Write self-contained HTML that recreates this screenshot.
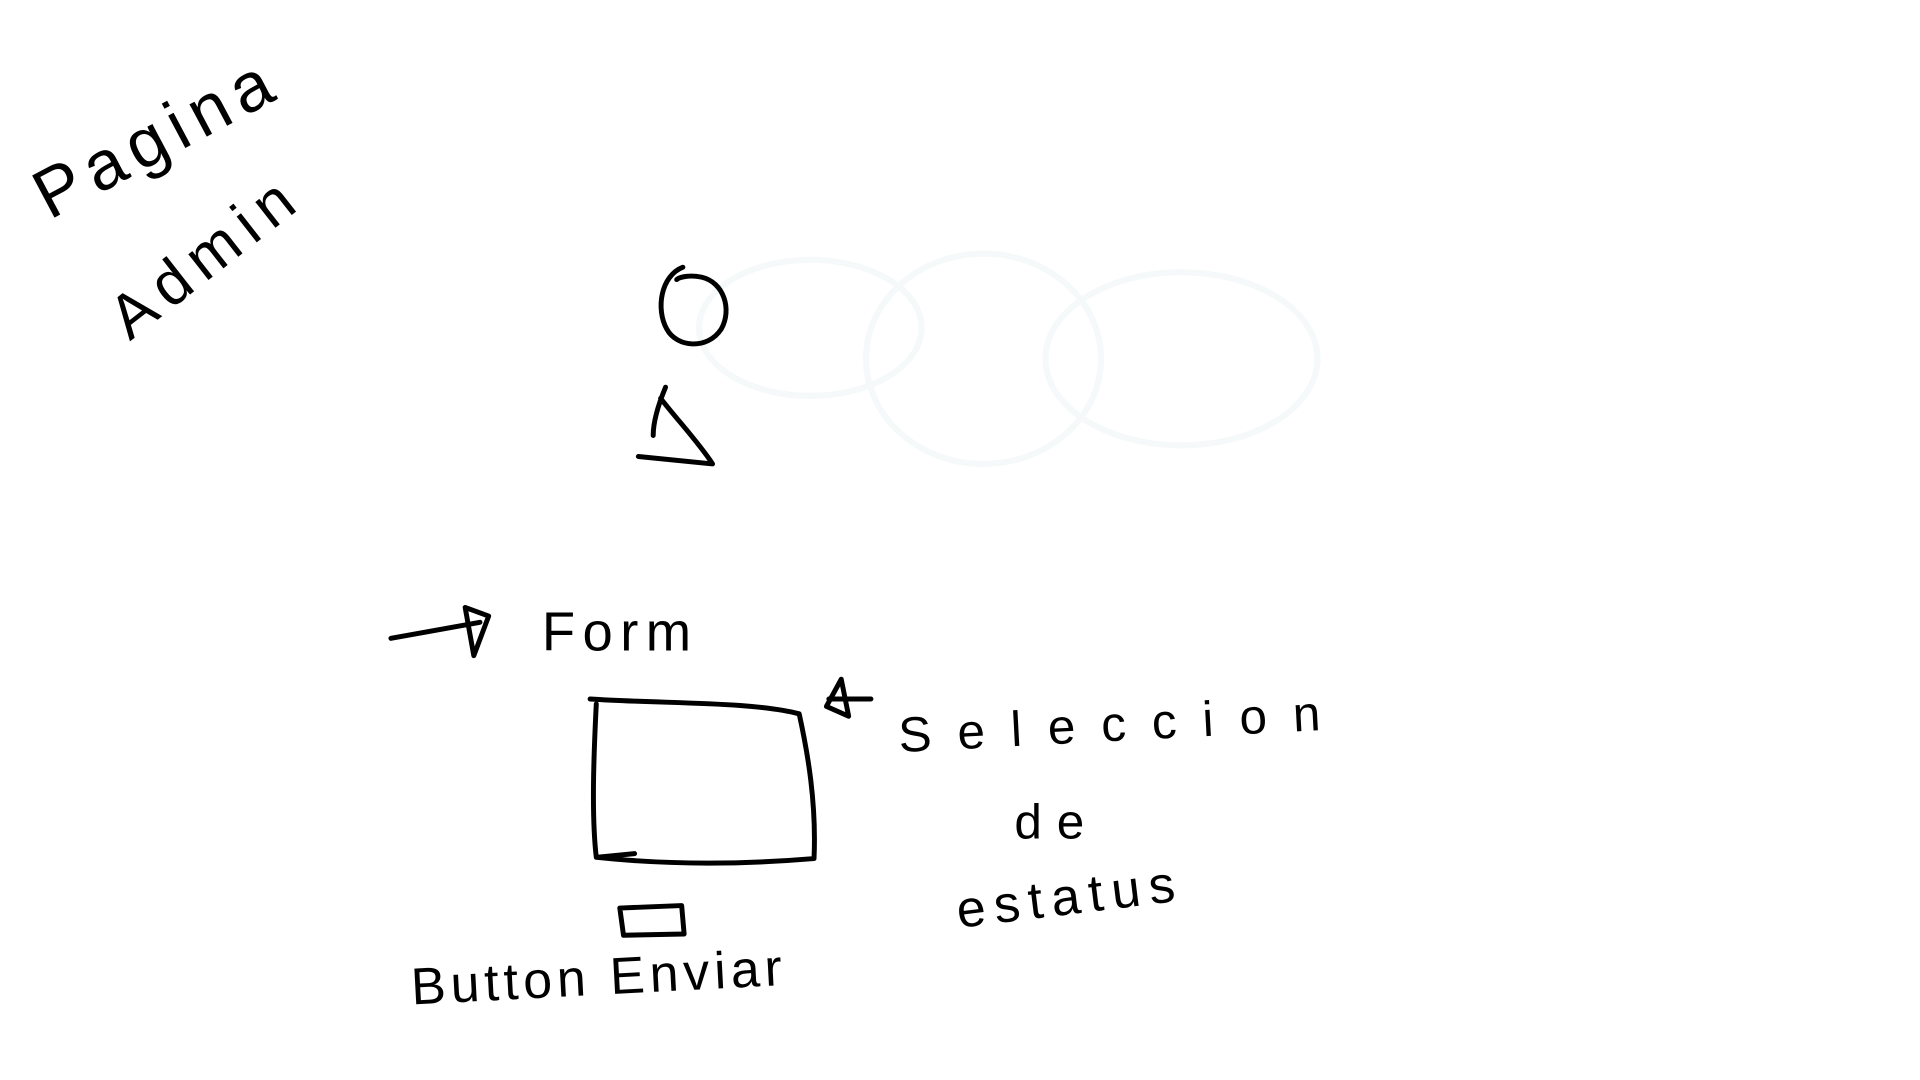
<!DOCTYPE html>
<html><head><meta charset="utf-8"><style>
html,body{margin:0;padding:0;background:#fff;width:1920px;height:1080px;overflow:hidden}
svg{display:block}
text{font-family:"Liberation Sans",sans-serif;fill:#000}
</style></head><body>
<svg width="1920" height="1080" viewBox="0 0 1552 873" xmlns="http://www.w3.org/2000/svg">
<g fill="none" stroke="#f6f9fa" stroke-width="5">
<ellipse cx="655" cy="265" rx="90" ry="55"/>
<ellipse cx="795" cy="290" rx="95" ry="85"/>
<ellipse cx="955" cy="290" rx="110" ry="70"/>
</g>
<g>
<text x="0" y="0" font-size="56" letter-spacing="7" transform="translate(40,178) rotate(-28)">Pagina</text>
<text x="0" y="0" font-size="50" letter-spacing="8" transform="translate(105,276) rotate(-38)">Admin</text>
</g>
<g fill="none" stroke="#000" stroke-width="4" stroke-linecap="round" stroke-linejoin="round">
<path d="M552,216 C534,223 530,250 539,266 C547,281 572,283 583,266 C592,250 585,228 567,224 C557,222 549,224 547,226"/>
<path d="M538,313 C533,325 528,340 528,352 M534,322 C548,340 565,358 576,375 L516,369"/>
<path d="M316,516 L388,503 M376,491 L395,498 L383,530 Z"/>
<path d="M477,565 C538,569 608,567 646,577 C653,609 660,649 658,694 C598,699 538,699 482,693 C478,659 480,609 482,569 M482,693 L513,690"/>
<path d="M670,565 L704,565 M680,549 L668,571 L686,579 Z"/>
<path d="M501,734 L551,732 L553,755 L504,756 Z"/>
</g>
<text x="438" y="526" font-size="44" letter-spacing="6">Form</text>
<text x="727" y="608" font-size="40" letter-spacing="21" transform="rotate(-3 727 608)">Seleccion</text>
<text x="820" y="678" font-size="40" letter-spacing="12">de</text>
<text x="775" y="750" font-size="42" letter-spacing="7" transform="rotate(-7 775 750)">estatus</text>
<text x="333" y="812" font-size="42" letter-spacing="4" transform="rotate(-3 333 812)">Button Enviar</text>
</svg>
</body></html>
